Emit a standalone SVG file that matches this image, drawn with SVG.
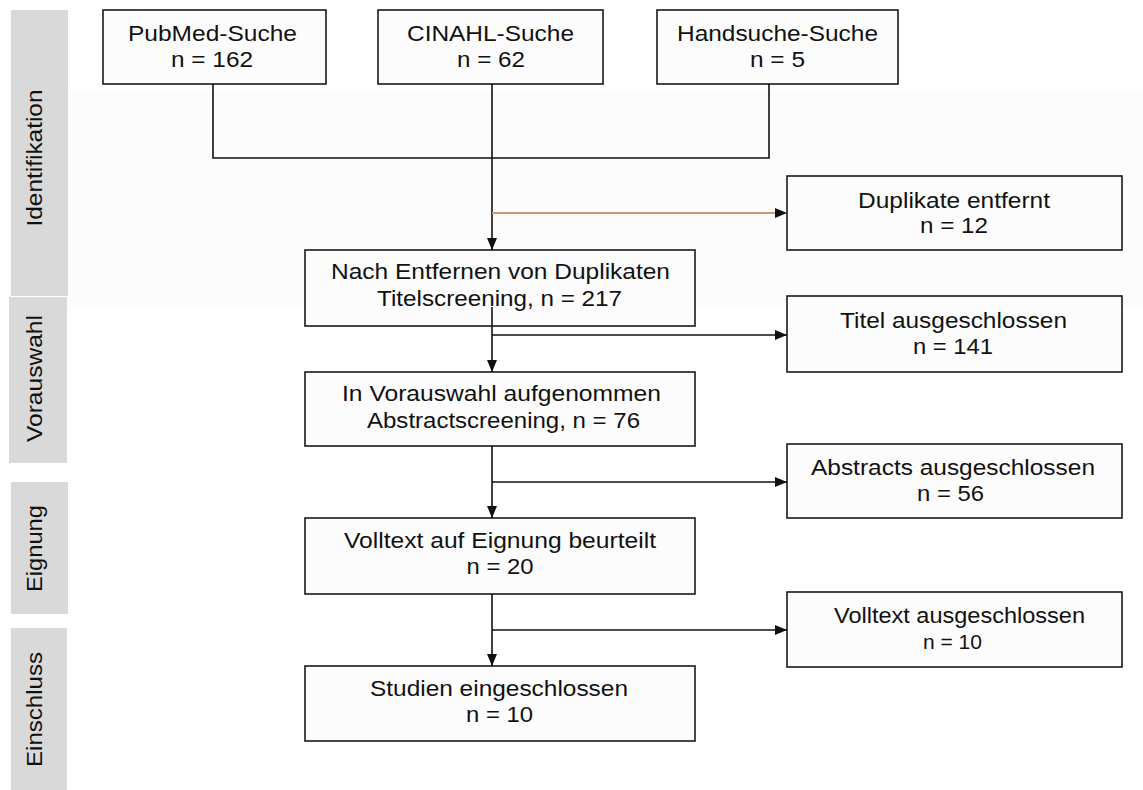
<svg xmlns="http://www.w3.org/2000/svg" width="1143" height="790" viewBox="0 0 1143 790">
<style>
.bar{fill:#d9d9d9}
.lbl{font-family:"Liberation Sans",Arial,sans-serif;font-size:22px;fill:#111;text-anchor:middle}
.box{fill:#fcfcfc;stroke:#1a1a1a;stroke-width:1.6}
.t{font-family:"Liberation Sans",Arial,sans-serif;font-size:22px;fill:#111;text-anchor:middle}
.ln{fill:none;stroke:#111;stroke-width:1.6}
.or{fill:none;stroke:#c99a72;stroke-width:2}
</style>
<defs>
<marker id="ah" markerUnits="userSpaceOnUse" markerWidth="12" markerHeight="10" refX="12" refY="5" orient="auto">
<path d="M0,0 L12,5 L0,10 z" fill="#111"/>
</marker>
</defs>
<rect x="0" y="0" width="1143" height="790" fill="#ffffff"/>
<rect x="68" y="90" width="1075" height="218" fill="#fcfcfc"/>
<g id="phases">
<g id="phase-identifikation"><rect class="bar" x="11" y="10" width="57" height="286"/><text class="lbl" x="42" y="158" transform="rotate(-90 42 158)" textLength="137" lengthAdjust="spacingAndGlyphs">Identifikation</text></g>
<g id="phase-vorauswahl"><rect class="bar" x="9" y="297" width="58" height="166"/><text class="lbl" x="42" y="378.5" transform="rotate(-90 42 378.5)" textLength="127" lengthAdjust="spacingAndGlyphs">Vorauswahl</text></g>
<g id="phase-eignung"><rect class="bar" x="11" y="482" width="57" height="132"/><text class="lbl" x="42" y="548.5" transform="rotate(-90 42 548.5)" textLength="87" lengthAdjust="spacingAndGlyphs">Eignung</text></g>
<g id="phase-einschluss"><rect class="bar" x="11" y="628" width="56" height="162"/><text class="lbl" x="42" y="709.5" transform="rotate(-90 42 709.5)" textLength="115" lengthAdjust="spacingAndGlyphs">Einschluss</text></g>
</g>
<g id="pubmed"><rect class="box" x="103" y="10" width="223" height="74"/>
<text class="t" x="212.5" y="41" textLength="169" lengthAdjust="spacingAndGlyphs">PubMed-Suche</text>
<text class="t" x="212" y="67" textLength="82" lengthAdjust="spacingAndGlyphs">n = 162</text></g>
<g id="cinahl"><rect class="box" x="378" y="10" width="225" height="74"/>
<text class="t" x="490.5" y="41" textLength="167" lengthAdjust="spacingAndGlyphs">CINAHL-Suche</text>
<text class="t" x="491" y="67" textLength="68" lengthAdjust="spacingAndGlyphs">n = 62</text></g>
<g id="handsuche"><rect class="box" x="657" y="10" width="241" height="74"/>
<text class="t" x="777.5" y="41" textLength="201" lengthAdjust="spacingAndGlyphs">Handsuche-Suche</text>
<text class="t" x="777.5" y="67" textLength="55" lengthAdjust="spacingAndGlyphs">n = 5</text></g>
<g id="duplikate"><rect class="box" x="787" y="176" width="335" height="74"/>
<text class="t" x="954" y="208" textLength="192" lengthAdjust="spacingAndGlyphs">Duplikate entfernt</text>
<text class="t" x="954" y="233" textLength="68" lengthAdjust="spacingAndGlyphs">n = 12</text></g>
<g id="titelscreening"><rect class="box" x="305" y="250" width="390" height="76"/>
<text class="t" x="500.5" y="279" textLength="339" lengthAdjust="spacingAndGlyphs">Nach Entfernen von Duplikaten</text>
<text class="t" x="499.5" y="306" textLength="245" lengthAdjust="spacingAndGlyphs">Titelscreening, n = 217</text></g>
<g id="titel-ausgeschlossen"><rect class="box" x="787" y="296" width="335" height="76"/>
<text class="t" x="953.5" y="328" textLength="227" lengthAdjust="spacingAndGlyphs">Titel ausgeschlossen</text>
<text class="t" x="953" y="354" textLength="80" lengthAdjust="spacingAndGlyphs">n = 141</text></g>
<g id="vorauswahl"><rect class="box" x="305" y="372" width="390" height="74"/>
<text class="t" x="501.5" y="401" textLength="319" lengthAdjust="spacingAndGlyphs">In Vorauswahl aufgenommen</text>
<text class="t" x="503.5" y="428" textLength="273" lengthAdjust="spacingAndGlyphs">Abstractscreening, n = 76</text></g>
<g id="abstracts-ausgeschlossen"><rect class="box" x="787" y="444" width="335" height="74"/>
<text class="t" x="953" y="475" textLength="284" lengthAdjust="spacingAndGlyphs">Abstracts ausgeschlossen</text>
<text class="t" x="950.5" y="501" textLength="67" lengthAdjust="spacingAndGlyphs">n = 56</text></g>
<g id="volltext"><rect class="box" x="305" y="518" width="390" height="76"/>
<text class="t" x="500" y="548" textLength="312" lengthAdjust="spacingAndGlyphs">Volltext auf Eignung beurteilt</text>
<text class="t" x="500" y="574" textLength="67" lengthAdjust="spacingAndGlyphs">n = 20</text></g>
<g id="volltext-ausgeschlossen"><rect class="box" x="787" y="592" width="335" height="75"/>
<text class="t" x="959.5" y="623" textLength="251" lengthAdjust="spacingAndGlyphs">Volltext ausgeschlossen</text>
<text class="t" x="952.5" y="649" style="font-size:20px" textLength="59" lengthAdjust="spacingAndGlyphs">n = 10</text></g>
<g id="studien"><rect class="box" x="305" y="666" width="390" height="75"/>
<text class="t" x="499" y="696" textLength="258" lengthAdjust="spacingAndGlyphs">Studien eingeschlossen</text>
<text class="t" x="499.5" y="722" textLength="67" lengthAdjust="spacingAndGlyphs">n = 10</text></g>
<g id="connectors">
<path class="ln" d="M213 84 V158 H769 V84"/>
<path class="ln" d="M492 84 V250" marker-end="url(#ah)"/>
<path class="or" d="M492 213 H785"/>
<path d="M775 208 L787 213 L775 218 z" fill="#111"/>
<path class="ln" d="M492 307 V372" marker-end="url(#ah)"/>
<path class="ln" d="M492 335 H787" marker-end="url(#ah)"/>
<path class="ln" d="M492 446 V518" marker-end="url(#ah)"/>
<path class="ln" d="M492 482 H787" marker-end="url(#ah)"/>
<path class="ln" d="M492 594 V666" marker-end="url(#ah)"/>
<path class="ln" d="M492 630 H787" marker-end="url(#ah)"/>
</g>
</svg>
